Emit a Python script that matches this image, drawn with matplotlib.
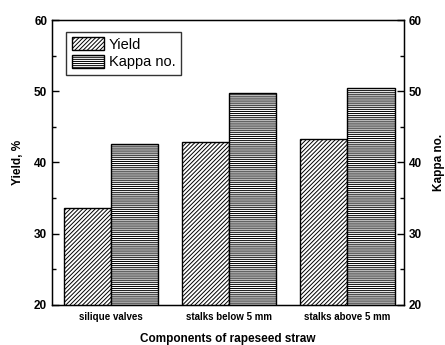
import matplotlib
matplotlib.use("Agg")
import matplotlib.pyplot as plt
import numpy as np
from matplotlib.ticker import MultipleLocator

components = ["silique valves", "stalks below 5 mm", "stalks above 5 mm"]
yield_pct = [33.6, 42.9, 43.3]
kappa_no = [42.6, 49.7, 50.4]

plt.rcParams["font.family"] = ["Liberation Sans", "DejaVu Sans"]
plt.rcParams["hatch.linewidth"] = 0.7

fig = plt.figure(figsize=(4.45, 3.45), dpi=100)
ax = fig.add_axes([0.117, 0.116, 0.791, 0.826])

x = np.arange(len(components))
w = 0.40
ax.bar(x - w / 2, yield_pct, w, color="white", edgecolor="black",
       hatch="////////", linewidth=1.0, label="Yield")
ax.bar(x + w / 2, kappa_no, w, color="white", edgecolor="black",
       hatch="--------", linewidth=1.0, label="Kappa no.")

ax.set_xlim(-0.5, 2.48)
ax.set_ylim(20, 60)
ax.set_xticks(x)
ax.set_xticklabels(components, fontsize=7, fontweight="bold")
ax.tick_params(axis="x", length=0, pad=5)
ax.yaxis.set_major_locator(MultipleLocator(10))
ax.yaxis.set_minor_locator(MultipleLocator(5))
ax.tick_params(axis="y", which="major", direction="in", length=5, width=1,
               labelsize=8.5)
ax.tick_params(axis="y", which="minor", direction="in", length=3, width=1)
for lab in ax.get_yticklabels():
    lab.set_fontweight("bold")
for s in ax.spines.values():
    s.set_linewidth(1.0)

ax.set_ylabel("Yield, %", fontsize=8.5, fontweight="bold", labelpad=7)
ax.set_xlabel("Components of rapeseed straw", fontsize=8.5, fontweight="bold",
              labelpad=8)

# right axis for kappa number, same scale
ax2 = ax.twinx()
ax2.set_ylim(20, 60)
ax2.yaxis.set_major_locator(MultipleLocator(10))
ax2.yaxis.set_minor_locator(MultipleLocator(5))
ax2.tick_params(axis="y", which="major", direction="in", length=5, width=1,
                labelsize=8.5)
ax2.tick_params(axis="y", which="minor", direction="in", length=3, width=1)
for lab in ax2.get_yticklabels():
    lab.set_fontweight("bold")
ax2.set_ylabel("Kappa no.", fontsize=8.5, fontweight="bold", labelpad=8)

leg = ax.legend(loc="upper left", bbox_to_anchor=(0.02, 0.985), fontsize=10.5,
                frameon=True, fancybox=False, edgecolor="black",
                handlelength=2.2, handleheight=1.0, handletextpad=0.3,
                borderpad=0.4, labelspacing=0.2)
leg.get_frame().set_linewidth(1.0)

fig.savefig("out.png", dpi=100)
plt.close(fig)
